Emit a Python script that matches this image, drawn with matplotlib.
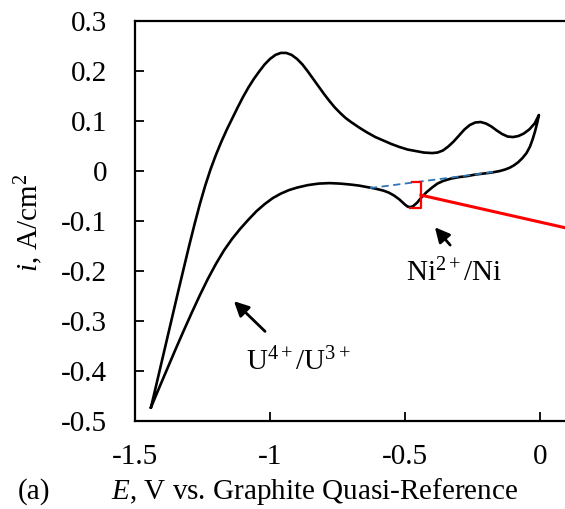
import matplotlib
matplotlib.use("Agg")
import matplotlib.pyplot as plt

plt.rcParams['font.family'] = ['Liberation Serif', 'DejaVu Serif']
plt.rcParams['mathtext.fontset'] = 'custom'
plt.rcParams['mathtext.rm'] = 'Liberation Serif'
plt.rcParams['mathtext.it'] = 'Liberation Serif:italic'

# anodic sweep: from negative vertex up to 0 V
anodic_E = [-1.441, -1.42, -1.40, -1.38, -1.36, -1.34, -1.32, -1.30, -1.28, -1.26,
            -1.24, -1.22, -1.20, -1.18, -1.16, -1.14, -1.12, -1.10, -1.08, -1.06,
            -1.04, -1.02, -1.00, -0.98, -0.96, -0.94, -0.92, -0.90, -0.88, -0.86,
            -0.84, -0.82, -0.80, -0.78, -0.76, -0.74, -0.72, -0.70, -0.67, -0.64,
            -0.61, -0.58, -0.55, -0.52, -0.49, -0.46, -0.43, -0.40, -0.38, -0.36,
            -0.34, -0.32, -0.30, -0.28, -0.26, -0.24, -0.22, -0.20, -0.18, -0.16,
            -0.14, -0.12, -0.10, -0.08, -0.06, -0.04, -0.02, -0.004]
anodic_i = [-0.472, -0.424, -0.378, -0.332, -0.286, -0.240, -0.195, -0.150, -0.107, -0.066,
            -0.029, 0.004, 0.033, 0.059, 0.083, 0.105, 0.127, 0.148, 0.167, 0.184,
            0.199, 0.213, 0.224, 0.232, 0.236, 0.236, 0.232, 0.224, 0.213, 0.199,
            0.184, 0.169, 0.154, 0.140, 0.127, 0.116, 0.106, 0.098, 0.087, 0.077,
            0.068, 0.061, 0.054, 0.048, 0.043, 0.040, 0.037, 0.036, 0.037, 0.041,
            0.049, 0.059, 0.071, 0.083, 0.092, 0.097, 0.098, 0.095, 0.089, 0.081,
            0.074, 0.069, 0.068, 0.070, 0.075, 0.083, 0.095, 0.112]

# cathodic sweep: from 0 V back to negative vertex
cathodic_E = [-0.004, -0.010, -0.018, -0.027, -0.037, -0.050, -0.065, -0.080, -0.095, -0.111,
              -0.13, -0.15, -0.18, -0.21, -0.24, -0.27, -0.30, -0.33, -0.36, -0.38,
              -0.40, -0.42, -0.44, -0.455, -0.47, -0.48, -0.49, -0.50, -0.51, -0.52,
              -0.54, -0.56, -0.58, -0.61, -0.64, -0.67, -0.70, -0.74, -0.78, -0.82,
              -0.86, -0.90, -0.93, -0.96, -0.99, -1.02, -1.05, -1.08, -1.11, -1.14,
              -1.17, -1.20, -1.23, -1.26, -1.29, -1.32, -1.35, -1.38, -1.41, -1.441]
cathodic_i = [0.112, 0.097, 0.080, 0.064, 0.049, 0.036, 0.026, 0.018, 0.012, 0.007,
              0.003, 0.000, -0.003, -0.005, -0.007, -0.010, -0.012, -0.015, -0.020, -0.025,
              -0.033, -0.042, -0.053, -0.063, -0.070, -0.072, -0.071, -0.067, -0.062, -0.057,
              -0.049, -0.043, -0.039, -0.035, -0.032, -0.029, -0.027, -0.025, -0.024, -0.025,
              -0.028, -0.033, -0.038, -0.045, -0.054, -0.066, -0.080, -0.097, -0.115, -0.135,
              -0.158, -0.185, -0.215, -0.248, -0.283, -0.319, -0.356, -0.394, -0.432, -0.472]

# baseline under Ni peak
base_E = [-0.630, -0.174]
base_i = [-0.034, -0.002]

# peak height bracket and leader line
bracket_E = [-0.474, -0.441, -0.441, -0.480]
bracket_i = [-0.022, -0.022, -0.074, -0.074]
leader_E = [-0.441, 0.10]
leader_i = [-0.048, -0.114]

xticks = [-1.5, -1, -0.5, 0]
xticklabels = ['-1.5', '-1', '-0.5', '0']
yticks = [0.3, 0.2, 0.1, 0, -0.1, -0.2, -0.3, -0.4, -0.5]
yticklabels = ['0.3', '0.2', '0.1', '0', '-0.1', '-0.2', '-0.3', '-0.4', '-0.5']

fig = plt.figure(figsize=(5.65, 5.09), dpi=100)
ax = fig.add_axes([0.239, 0.172, 0.761, 0.787])

ax.plot(anodic_E + cathodic_E[1:], anodic_i + cathodic_i[1:], color='black', lw=1.9,
        solid_joinstyle='round')
ax.plot(base_E, base_i, color='#2E75B6', lw=1.3, ls=(0, (4, 2.5)))
ax.plot(bracket_E, bracket_i, color='red', lw=1.6)
ax.plot(leader_E, leader_i, color='red', lw=2.2)

ax.annotate('', xy=(-0.396, -0.108), xytext=(-0.326, -0.152),
            arrowprops=dict(arrowstyle='-|>', color='black', lw=2.0, mutation_scale=22))
ax.annotate('', xy=(-1.141, -0.256), xytext=(-1.011, -0.324),
            arrowprops=dict(arrowstyle='-|>', color='black', lw=2.0, mutation_scale=22))
ax.text(-0.318, -0.204, 'Ni$^{2+}$/Ni', fontsize=21, ha='center', va='center')
ax.text(-0.896, -0.382, 'U$^{4+}$/U$^{3+}$', fontsize=21, ha='center', va='center')

ax.set_xlim(-1.5, 0.0926)
ax.set_ylim(-0.5, 0.3)
ax.set_xticks(xticks)
ax.set_xticklabels(xticklabels)
ax.set_yticks(yticks)
ax.set_yticklabels(yticklabels)
ax.tick_params(direction='in', length=6.5, width=1.3, labelsize=21)
ax.tick_params(axis='x', pad=16)
ax.tick_params(axis='y', pad=20)
for s in ['left', 'bottom', 'top']:
    ax.spines[s].set_linewidth(1.6)
ax.spines['right'].set_visible(False)

fig.text(0.05, 0.562, '$i$, A/cm$^2$', fontsize=21, rotation=90, ha='center', va='center')
fig.text(0.556, 0.02, '$E$, V vs. Graphite Quasi-Reference', fontsize=21, ha='center',
         va='baseline')
fig.text(0.061, 0.02, '(a)', fontsize=21, ha='center', va='baseline')

fig.savefig('out.png', dpi=100)
